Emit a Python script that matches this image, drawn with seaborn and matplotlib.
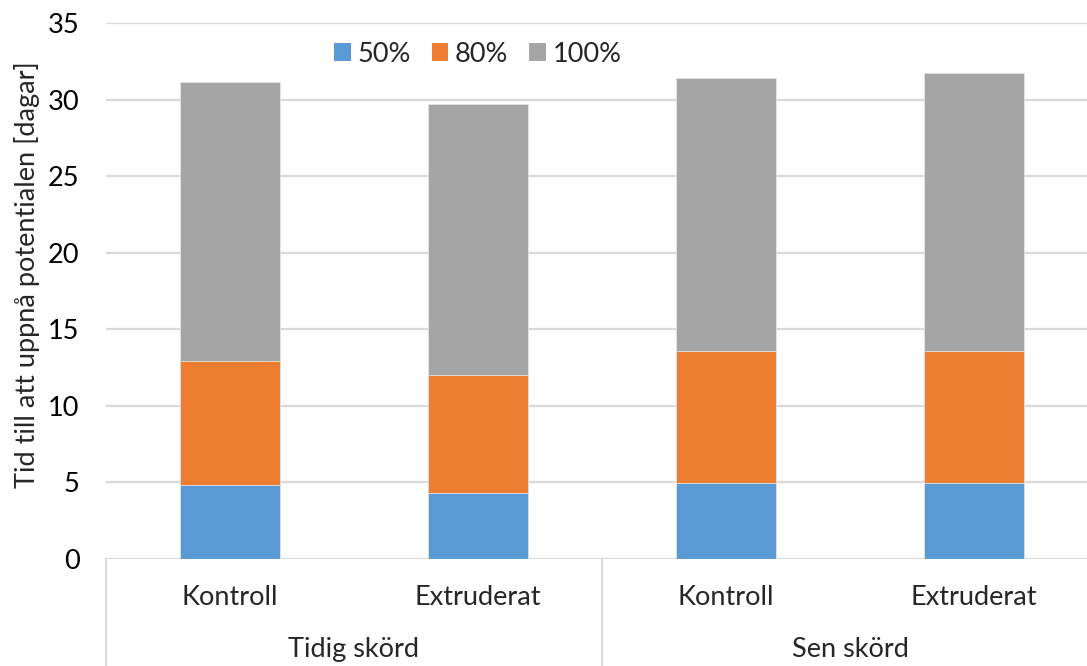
import matplotlib
matplotlib.use("Agg")
import matplotlib.pyplot as plt
import matplotlib.transforms as mtransforms
from matplotlib.patches import Patch
import pandas as pd
import seaborn as sns

# Time (days) to reach 50 %, 80 % and 100 % of the potential
groups = ["Tidig skörd", "Tidig skörd", "Sen skörd", "Sen skörd"]
treatments = ["Kontroll", "Extruderat", "Kontroll", "Extruderat"]
t50 = [4.8, 4.3, 4.95, 4.95]
t80 = [12.95, 12.0, 13.6, 13.6]
t100 = [31.15, 29.75, 31.45, 31.75]
series = ["50%", "80%", "100%"]
colors = {"50%": "#5B9BD5", "80%": "#ED7D31", "100%": "#A5A5A5"}
yticks = [0, 5, 10, 15, 20, 25, 30, 35]

keys = [f"{g}|{t}" for g, t in zip(groups, treatments)]
df = pd.DataFrame({
    "key": keys * 3,
    "serie": ["50%"] * 4 + ["80%"] * 4 + ["100%"] * 4,
    "dagar": t50 + t80 + t100,
})

sns.set_theme(style="white")
plt.rcParams["font.family"] = ["Lato", "DejaVu Sans"]
FS = 19.5

fig = plt.figure(figsize=(10.87, 6.66), dpi=100)
ax = fig.add_axes([0.0975, 0.161, 0.9126, 0.804])

# each bar reaches its own time from zero; draw the longest first so shorter ones sit in front
for s in ["100%", "80%", "50%"]:
    sns.barplot(data=df[df["serie"] == s], x="key", y="dagar", order=keys,
                color=colors[s], width=0.4, errorbar=None, ax=ax,
                saturation=1, edgecolor="#E4E4E4", linewidth=0.6, zorder=3)

ax.set_ylim(0, 35)
ax.set_xlim(-0.5, 3.5)
ax.set_yticks(yticks)
ax.set_yticklabels([str(v) for v in yticks], fontsize=FS, color="#000000")
ax.tick_params(axis="y", length=0, pad=19)
ax.yaxis.grid(True, color="#D9D9D9", linewidth=1.6, zorder=0)
ax.set_axisbelow(True)
for sp in ax.spines.values():
    sp.set_visible(False)
ax.set_xlabel("")
ax.set_xticks([])
ax.set_ylabel("Tid till att uppnå potentialen [dagar]", fontsize=FS)
ax.yaxis.set_label_coords(-0.067, 0.53)

# two-level category axis
trans = mtransforms.blended_transform_factory(ax.transData, ax.transAxes)
for i, t in enumerate(treatments):
    ax.text(i, -0.073, t, transform=trans, ha="center", va="center", fontsize=FS)
for x, g in [(0.5, "Tidig skörd"), (2.5, "Sen skörd")]:
    ax.text(x, -0.169, g, transform=trans, ha="center", va="center", fontsize=FS)
for x in [-0.5, 1.5, 3.5]:
    ax.plot([x, x], [0, -0.3], transform=trans, color="#D9D9D9", linewidth=1.4,
            clip_on=False)

handles = [Patch(facecolor=colors[s], edgecolor="none") for s in series]
ax.legend(handles, series, loc="upper left", bbox_to_anchor=(0.211, 1.001), ncol=3,
          frameon=False, fontsize=FS, handlelength=0.62, handleheight=0.62,
          handletextpad=0.25, columnspacing=0.75, borderpad=0.2)

fig.savefig("out.png", dpi=100)
